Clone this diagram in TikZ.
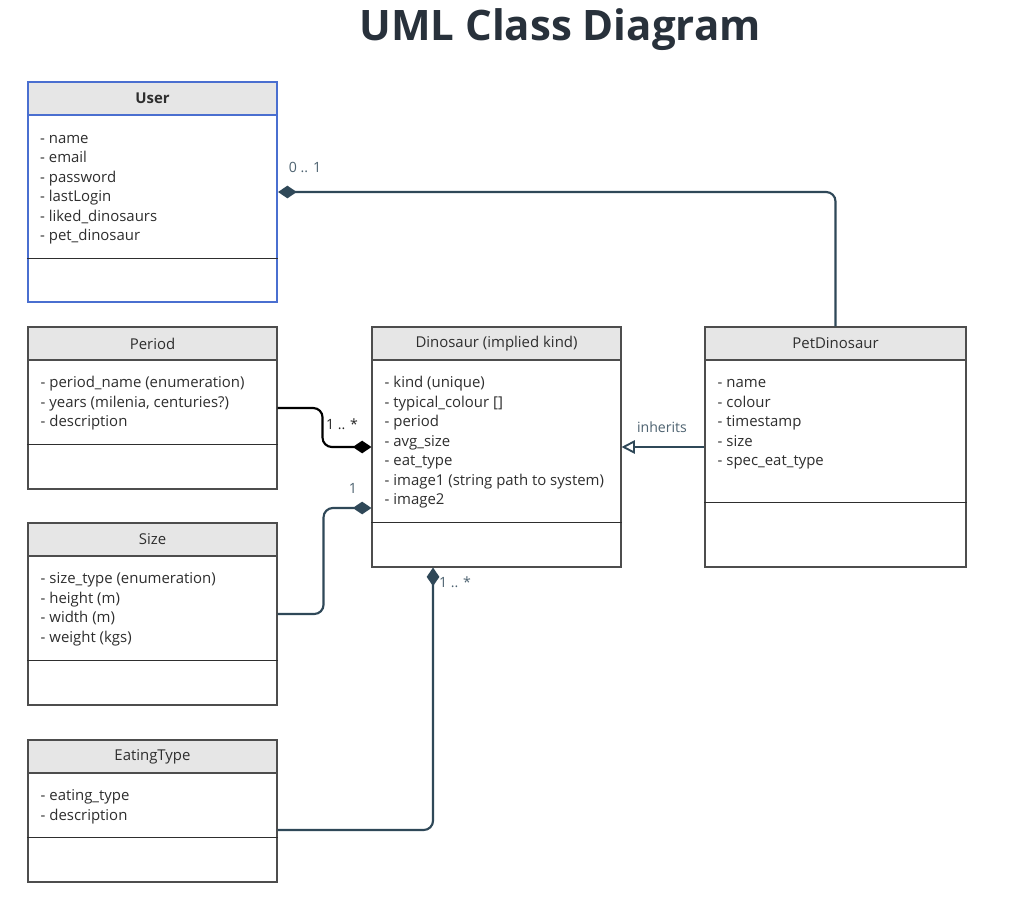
\documentclass[tikz,border=0pt]{standalone}
\usepackage{fontspec}
\setmainfont{Open Sans}
\usetikzlibrary{arrows.meta}
\definecolor{slate}{HTML}{2F4858}
\definecolor{headgray}{HTML}{E6E6E6}
\definecolor{ink}{HTML}{2E2E2E}
\definecolor{titleink}{HTML}{28313B}
\definecolor{userblue}{HTML}{4A6FD0}
\begin{document}
\begin{tikzpicture}[x=0.75pt,y=-0.75pt,
  class/.style={draw=ink!85,line width=0.8pt,inner sep=0pt,minimum width=186.75pt},
  head/.style={draw=ink!85,line width=0.8pt,fill=headgray,inner sep=0pt,minimum height=24.75pt,
    font=\fontsize{11.2}{12}\selectfont,text=ink},
  attrs/.style={anchor=north west,inner sep=0pt,align=left,text=ink,
    font=\fontsize{11.2}{14.6}\selectfont},
  lbl/.style={text=slate!85,font=\fontsize{10.6}{11}\selectfont,inner sep=0pt},
  comp/.style={draw=slate,line width=1.6pt,rounded corners=7pt,-{Diamond[length=14pt,width=9.5pt]}},
  compblack/.style={comp,draw=black},
  inh/.style={draw=slate,line width=1.6pt,-{Triangle[open,length=10pt,width=10pt,line width=1.4pt]}}]
\useasboundingbox[fill=white] (0,0) rectangle (1033,900);

\node[font=\fontsize{31.5}{34}\selectfont\bfseries,text=titleink] (title) at (560,30) {UML Class Diagram};

\node[class,minimum height=165pt,draw=userblue,line width=1.6pt] (user) at (152.5,192) {};
\node[head,minimum width=186.75pt,font=\fontsize{11.2}{12}\selectfont\bfseries,draw=userblue,line width=1.6pt,anchor=north] (userhead) at (user.north) {User};
\node[attrs] (userattrs) at ([xshift=9.75pt,yshift=-10pt]userhead.south west)
  {\strut- name\\- email\\- password\\- lastLogin\\- liked\_dinosaurs\\- pet\_dinosaur};
\draw[ink,line width=0.8pt] ([yshift=33.75pt]user.south west) -- ([yshift=33.75pt]user.south east);

\node[class,minimum height=121.5pt] (period) at (152.5,408) {};
\node[head,minimum width=186.75pt,anchor=north] (periodhead) at (period.north) {Period};
\node[attrs] (periodattrs) at ([xshift=9.75pt,yshift=-10pt]periodhead.south west)
  {\strut- period\_name (enumeration)\\- years (milenia, centuries?)\\- description};
\draw[ink,line width=0.8pt] ([yshift=33.75pt]period.south west) -- ([yshift=33.75pt]period.south east);

\node[class,minimum height=136.5pt] (size) at (152.5,614) {};
\node[head,minimum width=186.75pt,anchor=north] (sizehead) at (size.north) {Size};
\node[attrs] (sizeattrs) at ([xshift=9.75pt,yshift=-10pt]sizehead.south west)
  {\strut- size\_type (enumeration)\\- height (m)\\- width (m)\\- weight (kgs)};
\draw[ink,line width=0.8pt] ([yshift=33.75pt]size.south west) -- ([yshift=33.75pt]size.south east);

\node[class,minimum height=106.5pt] (eating) at (152.5,811) {};
\node[head,minimum width=186.75pt,anchor=north] (eatinghead) at (eating.north) {EatingType};
\node[attrs] (eatingattrs) at ([xshift=9.75pt,yshift=-10pt]eatinghead.south west)
  {\strut- eating\_type\\- description};
\draw[ink,line width=0.8pt] ([yshift=33.75pt]eating.south west) -- ([yshift=33.75pt]eating.south east);

\node[class,minimum height=180pt] (dino) at (496.5,447) {};
\node[head,minimum width=186.75pt,anchor=north] (dinohead) at (dino.north) {Dinosaur (implied kind)};
\node[attrs] (dinoattrs) at ([xshift=9.75pt,yshift=-10pt]dinohead.south west)
  {\strut- kind (unique)\\- typical\_colour []\\- period\\- avg\_size\\- eat\_type\\- image1 (string path to system)\\- image2};
\draw[ink,line width=0.8pt] ([yshift=33.75pt]dino.south west) -- ([yshift=33.75pt]dino.south east);

\node[class,minimum width=195.75pt,minimum height=180pt] (petdino) at (835.5,447) {};
\node[head,minimum width=195.75pt,anchor=north] (petdinohead) at (petdino.north) {PetDinosaur};
\node[attrs] (petdinoattrs) at ([xshift=9.75pt,yshift=-10pt]petdinohead.south west)
  {\strut- name\\- colour\\- timestamp\\- size\\- spec\_eat\_type};
\draw[ink,line width=0.8pt] ([yshift=48.75pt]petdino.south west) -- ([yshift=48.75pt]petdino.south east);

\draw[comp] (petdino.north) |- (user.east);
\draw[compblack] (period.east) -- ++(45,0) |- (dino.west);
\draw[comp] (size.east) -- ++(46,0) |- ([yshift=-45.75pt]dino.west);
\draw[comp] ([yshift=-14.25pt]eating.east) -| ([xshift=-47.6pt]dino.south);
\draw[inh] (petdino.west) -- (dino.east);

\node[lbl] (lbluser) at (305,167) {0 .. 1};
\node[lbl,text=black!85] (lblperiod) at (342,424) {1 .. *};
\node[lbl] (lblsize) at (353,488) {1};
\node[lbl] (lbleating) at (455,582) {1 .. *};
\node[lbl] (lblinh) at (662,427) {inherits};
\end{tikzpicture}
\end{document}
